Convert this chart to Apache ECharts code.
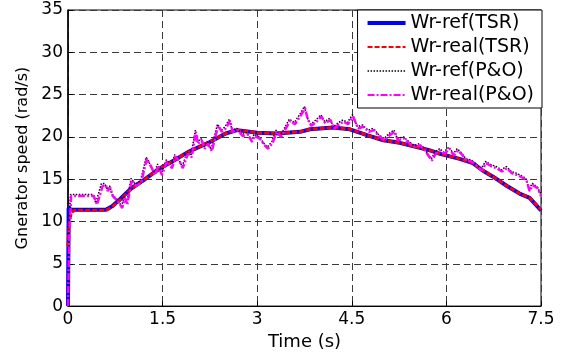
<!DOCTYPE html>
<html>
<head>
<meta charset="utf-8">
<script src="https://cdn.jsdelivr.net/npm/echarts@6/dist/echarts.min.js"></script>
<style>html,body{margin:0;padding:0;background:#fff}#c{width:563px;height:356px}</style>
</head>
<body>
<div id="c"></div>
<script>
// ---- data ----
var seriesNames = ['Wr-ref(TSR)', 'Wr-real(TSR)', 'Wr-ref(P&O)', 'Wr-real(P&O)'];
var xTicks = [0, 1.5, 3, 4.5, 6, 7.5];
var yTicks = [0, 5, 10, 15, 20, 25, 30, 35];

var tsrRefT = [0, 0.01, 0.05, 0.6, 0.7, 0.82, 1.0, 1.2, 1.46, 1.7, 1.9, 2.25, 2.5, 2.68, 3.0, 3.31, 3.68, 3.84, 4.2, 4.47, 4.74, 5.0, 5.26, 5.53, 5.74, 5.9, 6.21, 6.42, 6.58, 6.74, 6.96, 7.16, 7.32, 7.5];
var tsrRefV = [0, 11.6, 11.4, 11.4, 11.8, 12.6, 13.9, 14.9, 16.3, 17.3, 18.2, 19.4, 20.4, 20.8, 20.5, 20.4, 20.6, 20.9, 21.1, 20.9, 20.2, 19.6, 19.3, 18.8, 18.4, 18.0, 17.4, 16.9, 16.0, 15.3, 14.2, 13.3, 12.8, 11.3];

var tsrRealT = [0, 0.02, 0.05, 0.1, 0.6, 0.7, 0.82, 1.0, 1.2, 1.46, 1.7, 1.9, 2.25, 2.5, 2.68, 3.0, 3.31, 3.68, 3.84, 4.2, 4.47, 4.74, 5.0, 5.26, 5.53, 5.74, 5.9, 6.21, 6.42, 6.58, 6.74, 6.96, 7.16, 7.32, 7.5];
var tsrRealV = [7.0, 9.8, 11.0, 11.3, 11.3, 11.7, 12.5, 13.8, 14.9, 16.3, 17.3, 18.2, 19.4, 20.4, 20.8, 20.5, 20.4, 20.6, 20.9, 21.1, 20.9, 20.2, 19.6, 19.3, 18.8, 18.4, 18.0, 17.4, 16.9, 16.0, 15.3, 14.2, 13.3, 12.8, 11.4];

var poRefT = [0, 0.02, 0.04, 0.40, 0.44, 0.53, 0.58, 0.62, 0.66, 0.70, 0.78, 0.85, 0.89, 0.93, 1.00, 1.07, 1.15, 1.24, 1.32, 1.37, 1.42, 1.48, 1.56, 1.64, 1.69, 1.76, 1.81, 1.89, 1.95, 2.02, 2.05, 2.11, 2.16, 2.21, 2.27, 2.32, 2.37, 2.43, 2.49, 2.56, 2.60, 2.68, 2.76, 2.84, 2.91, 2.95, 3.03, 3.11, 3.16, 3.23, 3.30, 3.37, 3.43, 3.51, 3.59, 3.67, 3.75, 3.79, 3.85, 3.93, 4.01, 4.07, 4.15, 4.21, 4.29, 4.36, 4.43, 4.51, 4.59, 4.67, 4.76, 4.84, 4.92, 5.01, 5.09, 5.17, 5.22, 5.32, 5.41, 5.49, 5.57, 5.64, 5.76, 5.82, 5.89, 5.96, 6.04, 6.11, 6.17, 6.24, 6.31, 6.39, 6.47, 6.55, 6.62, 6.71, 6.79, 6.87, 6.95, 7.03, 7.11, 7.19, 7.26, 7.31, 7.36, 7.44, 7.5];
var poRefV = [0, 10.5, 13.2, 13.2, 12.2, 14.5, 14.5, 13.8, 14.2, 13.2, 12.6, 11.8, 13.0, 12.2, 15.1, 14.4, 14.8, 17.6, 16.5, 15.7, 16.8, 15.7, 17.3, 16.5, 17.9, 17.3, 16.5, 18.2, 17.8, 20.8, 19.4, 19.8, 18.8, 19.4, 18.5, 20.0, 21.5, 20.8, 21.2, 22.1, 20.8, 21.0, 20.3, 20.5, 19.6, 20.3, 20.0, 19.2, 18.8, 19.4, 20.8, 20.2, 21.0, 22.1, 21.7, 22.6, 23.6, 22.3, 21.5, 22.0, 22.6, 21.8, 22.2, 21.2, 21.7, 22.0, 21.7, 22.6, 21.2, 21.4, 20.8, 21.0, 20.3, 19.8, 20.4, 20.8, 19.8, 20.0, 19.4, 19.0, 19.2, 18.7, 17.4, 18.2, 18.6, 18.2, 18.8, 18.0, 18.6, 18.1, 17.4, 17.3, 16.8, 16.2, 17.1, 16.7, 16.5, 16.1, 16.5, 15.9, 15.7, 15.4, 15.1, 13.8, 14.5, 14.1, 13.2];

var poRealT = [0, 0.02, 0.05, 0.41, 0.46, 0.55, 0.60, 0.63, 0.67, 0.71, 0.79, 0.86, 0.90, 0.94, 1.01, 1.08, 1.16, 1.25, 1.33, 1.38, 1.43, 1.49, 1.57, 1.65, 1.70, 1.77, 1.82, 1.90, 1.96, 2.03, 2.06, 2.12, 2.17, 2.22, 2.28, 2.33, 2.38, 2.44, 2.50, 2.57, 2.61, 2.69, 2.77, 2.85, 2.92, 2.96, 3.04, 3.12, 3.17, 3.24, 3.31, 3.38, 3.44, 3.52, 3.60, 3.68, 3.76, 3.80, 3.86, 3.94, 4.02, 4.08, 4.16, 4.22, 4.30, 4.37, 4.44, 4.52, 4.60, 4.68, 4.77, 4.85, 4.93, 5.02, 5.10, 5.18, 5.23, 5.33, 5.42, 5.50, 5.58, 5.65, 5.77, 5.83, 5.90, 5.97, 6.05, 6.12, 6.18, 6.25, 6.32, 6.40, 6.48, 6.56, 6.63, 6.72, 6.80, 6.88, 6.96, 7.04, 7.12, 7.20, 7.27, 7.32, 7.37, 7.45, 7.50];
var poRealV = [0, 8.0, 13.0, 13.0, 12.0, 14.2, 14.3, 13.6, 14.0, 13.0, 12.4, 11.6, 12.8, 12.0, 14.9, 14.2, 14.6, 17.4, 16.3, 15.5, 16.6, 15.5, 17.1, 16.3, 17.7, 17.1, 16.3, 18.0, 17.6, 20.6, 19.2, 19.6, 18.6, 19.2, 18.3, 19.8, 21.3, 20.6, 21.0, 21.9, 20.6, 20.8, 20.1, 20.3, 19.4, 20.1, 19.8, 19.0, 18.6, 19.2, 20.6, 20.0, 20.8, 21.9, 21.5, 22.4, 23.4, 22.1, 21.3, 21.8, 22.4, 21.6, 22.0, 21.0, 21.5, 21.8, 21.5, 22.4, 21.0, 21.2, 20.6, 20.8, 20.1, 19.6, 20.2, 20.6, 19.6, 19.8, 19.2, 18.8, 19.0, 18.5, 17.2, 18.0, 18.4, 18.0, 18.6, 17.8, 18.4, 17.9, 17.2, 17.1, 16.6, 16.0, 16.9, 16.5, 16.3, 15.9, 16.3, 15.7, 15.5, 15.2, 14.9, 13.6, 14.3, 13.9, 13.0];

function pairs(t, v) { return t.map(function (x, i) { return [x, v[i]]; }); }

var FONT = 'DejaVu Sans';
var chart = echarts.init(document.getElementById('c'), null, { renderer: 'canvas' });
chart.setOption({
  animation: false,
  backgroundColor: '#fff',
  grid: { left: 68, right: 22, top: 10, bottom: 47, show: true, borderColor: '#000', borderWidth: 1, backgroundColor: 'transparent' },
  xAxis: {
    type: 'value', min: 0, max: 7.5, interval: 1.5,
    name: 'Time (s)', nameLocation: 'middle', nameGap: 23,
    nameTextStyle: { fontFamily: FONT, fontSize: 18, color: '#000' },
    axisLine: { lineStyle: { color: '#000', width: 1 } },
    axisTick: { inside: true, length: 5, lineStyle: { color: '#000' } },
    axisLabel: { fontFamily: FONT, fontSize: 17, color: '#000', margin: 5,
      formatter: function (v) { return xTicks.indexOf(v) >= 0 ? String(v) : ''; } },
    splitLine: { show: true, lineStyle: { color: '#3a3a3a', type: [7, 4], width: 1 } }
  },
  yAxis: {
    type: 'value', min: 0, max: 35, interval: 5,
    name: 'Gnerator speed (rad/s)', nameLocation: 'middle', nameGap: 35,
    nameTextStyle: { fontFamily: FONT, fontSize: 16, color: '#000' },
    axisLine: { show: true, lineStyle: { color: '#000', width: 1.5 } },
    axisTick: { show: true, inside: true, length: 5, lineStyle: { color: '#000' } },
    axisLabel: { fontFamily: FONT, fontSize: 17, color: '#000', margin: 5,
      formatter: function (v) { return yTicks.indexOf(v) >= 0 ? String(v) : ''; } },
    splitLine: { show: true, lineStyle: { color: '#3a3a3a', type: [7, 4], width: 1 } }
  },
  legend: {
    orient: 'vertical', right: 21, top: 10,
    data: [
      { name: seriesNames[0], lineStyle: { width: 4 } },
      { name: seriesNames[1], lineStyle: { width: 2 } },
      { name: seriesNames[2], lineStyle: { width: 1.5 } },
      { name: seriesNames[3], lineStyle: { width: 2 } }
    ],
    itemWidth: 38, itemHeight: 14, itemGap: 4,
    padding: [3, 8, 3, 8],
    borderColor: '#000', borderWidth: 1, backgroundColor: '#fff',
    itemStyle: { opacity: 0, borderWidth: 0 },
    textStyle: { fontFamily: FONT, fontSize: 19, color: '#000', lineHeight: 20 }
  },
  series: [
    { name: seriesNames[0], type: 'line', data: pairs(tsrRefT, tsrRefV), showSymbol: false, symbol: 'none',
      lineStyle: { color: '#0000ff', width: 4, type: 'solid' }, itemStyle: { color: '#0000ff' }, z: 2 },
    { name: seriesNames[1], type: 'line', data: pairs(tsrRealT, tsrRealV), showSymbol: false, symbol: 'none',
      lineStyle: { color: '#ff0000', width: 3, type: [5, 2] }, itemStyle: { color: '#ff0000' }, z: 3 },
    { name: seriesNames[2], type: 'line', data: pairs(poRefT, poRefV), showSymbol: false, symbol: 'none',
      lineStyle: { color: '#000000', width: 1.5, type: [1.5, 1.5] }, itemStyle: { color: '#000' }, z: 4 },
    { name: seriesNames[3], type: 'line', data: pairs(poRealT, poRealV), showSymbol: false, symbol: 'none',
      lineStyle: { color: '#ff00ff', width: 2.5, type: [7, 2, 2, 2] }, itemStyle: { color: '#ff00ff' }, z: 5 }
  ]
});
</script>
</body>
</html>
